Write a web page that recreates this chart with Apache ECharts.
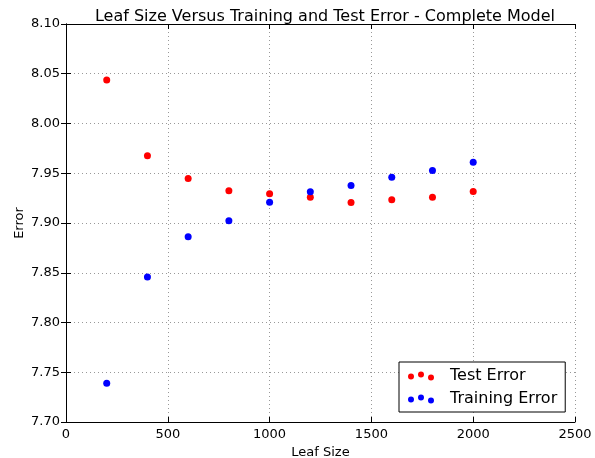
<!DOCTYPE html>
<html>
<head>
<meta charset="utf-8">
<script src="https://cdn.jsdelivr.net/npm/echarts@6/dist/echarts.min.js"></script>
<style>
html, body { margin: 0; padding: 0; background: #fff; }
#chart { width: 595px; height: 458px; }
</style>
</head>
<body>
<div id="chart"></div>
<script>
var leafSizes = [200, 400, 600, 800, 1000, 1200, 1400, 1600, 1800, 2000];
var testError = [8.0436, 7.9675, 7.9447, 7.9323, 7.9293, 7.9260, 7.9206, 7.9233, 7.9260, 7.9316];
var trainError = [7.7390, 7.8457, 7.8863, 7.9023, 7.9209, 7.9313, 7.9377, 7.9460, 7.9527, 7.9610];

function pairs(xs, ys) {
	return xs.map(function (x, i) { return [x, ys[i]]; });
}

// three dots like matplotlib's scatter legend
var dotsIcon = 'path://M0,5a3,3 0 1,0 6,0a3,3 0 1,0 -6,0M10,3a3,3 0 1,0 6,0a3,3 0 1,0 -6,0M20,6a3,3 0 1,0 6,0a3,3 0 1,0 -6,0';

var font = 'DejaVu Sans';
var gridLine = { show: true, lineStyle: { color: '#999', type: [1, 3], width: 1 } };

var myChart = echarts.init(document.getElementById('chart'));
var option = {
	animation: false,
	title: {
		text: 'Leaf Size Versus Training and Test Error - Complete Model',
		left: 320,
		textAlign: 'center',
		top: 4,
		textStyle: { fontFamily: font, fontSize: 16, fontWeight: 'normal', color: '#000' }
	},
	grid: { left: 66, right: 20, top: 24, bottom: 36, containLabel: false, outerBoundsMode: 'none' },
	legend: {
		orient: 'vertical',
		left: 399,
		top: 362,
		padding: [6, 8, 5, 9],
		itemGap: 7,
		itemWidth: 26,
		itemHeight: 9,
		borderColor: '#000',
		borderWidth: 1,
		backgroundColor: '#fff',
		textStyle: { fontFamily: font, fontSize: 16, color: '#000', padding: [0, 0, 0, 11] },
		data: [
			{ name: 'Test Error', icon: dotsIcon },
			{ name: 'Training Error', icon: dotsIcon }
		]
	},
	xAxis: [{
		type: 'value',
		min: 0, max: 2500, interval: 500,
		name: 'Leaf Size',
		nameLocation: 'middle',
		nameGap: 20,
		nameTextStyle: { fontFamily: font, fontSize: 13, color: '#000' },
		axisLine: { show: true, lineStyle: { color: '#000', width: 1 } },
		axisTick: { show: true, inside: true, length: 5, lineStyle: { color: '#000' } },
		axisLabel: {
			fontFamily: font, fontSize: 13, color: '#000', margin: 6,
			formatter: function (v) { return String(v); }
		},
		splitLine: gridLine
	}, {
		type: 'value',
		position: 'top',
		min: 0, max: 2500, interval: 500,
		axisLine: { show: true, lineStyle: { color: '#000', width: 1 } },
		axisTick: { show: true, inside: true, length: 5, lineStyle: { color: '#000' } },
		axisLabel: { show: false },
		splitLine: { show: false }
	}],
	yAxis: [{
		type: 'value',
		min: 7.70, max: 8.10, interval: 0.05,
		name: 'Error',
		nameLocation: 'middle',
		nameGap: 40,
		nameMoveOverlap: false,
		nameTextStyle: { fontFamily: font, fontSize: 13, color: '#000' },
		axisLine: { show: true, lineStyle: { color: '#000', width: 1 } },
		axisTick: { show: true, inside: true, length: 5, lineStyle: { color: '#000' } },
		axisLabel: {
			fontFamily: font, fontSize: 13, color: '#000', margin: 6,
			formatter: function (v) { return v.toFixed(2); }
		},
		splitLine: gridLine
	}, {
		type: 'value',
		position: 'right',
		min: 7.70, max: 8.10, interval: 0.05,
		axisLine: { show: true, lineStyle: { color: '#000', width: 1 } },
		axisTick: { show: true, inside: true, length: 5, lineStyle: { color: '#000' } },
		axisLabel: { show: false },
		splitLine: { show: false }
	}],
	series: [{
		name: 'Test Error',
		type: 'scatter',
		symbolSize: 7,
		itemStyle: { color: '#ff0000', opacity: 1 },
		data: pairs(leafSizes, testError)
	}, {
		name: 'Training Error',
		type: 'scatter',
		symbolSize: 7,
		itemStyle: { color: '#0000ff', opacity: 1 },
		data: pairs(leafSizes, trainError)
	}]
};
myChart.setOption(option);
</script>
</body>
</html>
